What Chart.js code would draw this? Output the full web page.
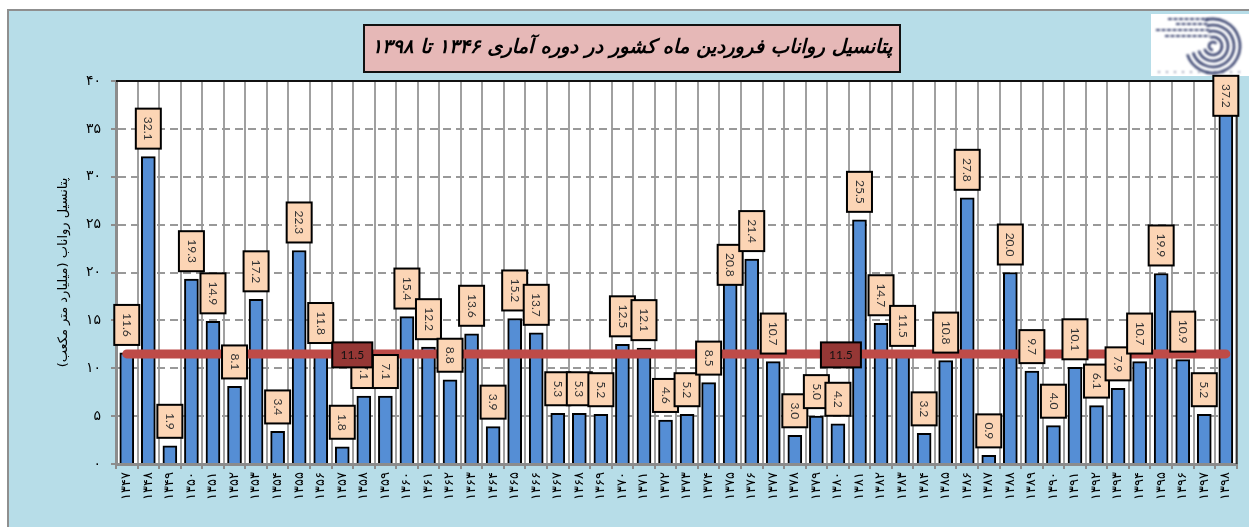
<!DOCTYPE html>
<html>
<head>
<meta charset="utf-8">
<script src="https://cdn.jsdelivr.net/npm/chart.js@4"></script>
<style>html,body{margin:0;padding:0;background:#fff;overflow:hidden}canvas{display:block}</style>
</head>
<body>
<canvas id="c" width="1249" height="527"></canvas>
<script>
const categories = ["۱۳۴۷","۱۳۴۸","۱۳۴۹","۱۳۵۰","۱۳۵۱","۱۳۵۲","۱۳۵۳","۱۳۵۴","۱۳۵۵","۱۳۵۶","۱۳۵۷","۱۳۵۸","۱۳۵۹","۱۳۶۰","۱۳۶۱","۱۳۶۲","۱۳۶۳","۱۳۶۴","۱۳۶۵","۱۳۶۶","۱۳۶۷","۱۳۶۸","۱۳۶۹","۱۳۷۰","۱۳۷۱","۱۳۷۲","۱۳۷۳","۱۳۷۴","۱۳۷۵","۱۳۷۶","۱۳۷۷","۱۳۷۸","۱۳۷۹","۱۳۸۰","۱۳۸۱","۱۳۸۲","۱۳۸۳","۱۳۸۴","۱۳۸۵","۱۳۸۶","۱۳۸۷","۱۳۸۸","۱۳۸۹","۱۳۹۰","۱۳۹۱","۱۳۹۲","۱۳۹۳","۱۳۹۴","۱۳۹۵","۱۳۹۶","۱۳۹۷","۱۳۹۸"];
const runoffValues = [11.6,32.1,1.9,19.3,14.9,8.1,17.2,3.4,22.3,11.8,1.8,7.1,7.1,15.4,12.2,8.8,13.6,3.9,15.2,13.7,5.3,5.3,5.2,12.5,12.1,4.6,5.2,8.5,20.8,21.4,10.7,3.0,5.0,4.2,25.5,14.7,11.5,3.2,10.8,27.8,0.9,20.0,9.7,4.0,10.1,6.1,7.9,10.7,19.9,10.9,5.2,37.2];
const meanValue = 11.5;
const meanSeries = categories.map(() => meanValue);
const yTickLabels = {0:"۰",5:"۵",10:"۱۰",15:"۱۵",20:"۲۰",25:"۲۵",30:"۳۰",35:"۳۵",40:"۴۰"};
const chartTitle = "پتانسیل رواناب فروردین ماه کشور در دوره آماری ۱۳۴۶ تا ۱۳۹۸";
const yAxisTitle = "پتانسیل رواناب (میلیارد متر مکعب)";
const meanLabelPoints = [{index:10,shift:10},{index:33,shift:3}];
const labelDrop = {28:28,51:16};

const decor = {
  id:'decor',
  beforeDraw(chart){
    const c=chart.ctx,a=chart.chartArea;
    c.save();
    c.fillStyle='#B7DDE8';c.fillRect(8,10,1241,517);
    c.fillStyle='#8f8f8f';c.fillRect(7,9,1242,2);c.fillRect(7,9,2,518);
    c.fillStyle='#fff';c.fillRect(a.left,a.top,a.right-a.left,a.bottom-a.top);
    // title box
    c.fillStyle='#E6B8B7';c.fillRect(364,25,536,47);
    c.strokeStyle='#111';c.lineWidth=2;c.strokeRect(364,25,536,47);
    c.fillStyle='#000';c.font='italic bold 19.5px "DejaVu Sans"';
    c.direction='rtl';c.textAlign='center';c.textBaseline='middle';
    c.fillText(chartTitle,632,48);
    c.direction='ltr';
    // logo
    c.fillStyle='#fff';c.fillRect(1151,14,98,62);
    c.filter='blur(0.8px)';
    c.strokeStyle='#3a4470';c.lineWidth=2.6;
    [9,15,21,27].forEach(r=>{c.beginPath();c.arc(1213,46,r,-Math.PI*0.6,Math.PI*0.9);c.stroke();});
    c.beginPath();c.arc(1213,46,4,Math.PI*0.5,Math.PI*1.8);c.stroke();
    c.lineWidth=1.8;
    [[1168,1208,19],[1176,1208,24],[1156,1210,30],[1165,1210,36]].forEach(l=>{c.beginPath();c.setLineDash([4,1.5]);c.moveTo(l[0],l[2]);c.lineTo(l[1],l[2]);c.stroke();});
    c.setLineDash([2,6]);c.lineWidth=1.2;c.beginPath();c.moveTo(1158,72);c.lineTo(1240,72);c.stroke();
    c.restore();
  },
  afterDatasetsDraw(chart){
    const c=chart.ctx,a=chart.chartArea,x=chart.scales.x,y=chart.scales.y;
    c.save();
    c.fillStyle='#111';c.fillRect(a.left,a.top-1,a.right-a.left,2);
    c.fillStyle='#333';c.fillRect(a.right-1,a.top,2,a.bottom-a.top);
    // value labels
    runoffValues.forEach((v,i)=>{
      const t=v.toFixed(1),h=t.length>3?40:33,w=25;
      const cx=x.getPixelForValue(i),bottom=y.getPixelForValue(v)-8+(labelDrop[i]||0);
      c.fillStyle='#FCD5B5';c.fillRect(cx-w/2,bottom-h,w,h);
      c.strokeStyle='#000';c.lineWidth=2;c.strokeRect(cx-w/2,bottom-h,w,h);
      c.save();c.translate(cx,bottom-h/2);c.rotate(Math.PI/2);
      c.fillStyle='#333';c.font='12px Lato';c.textAlign='center';c.textBaseline='middle';
      c.fillText(t,0,0);c.restore();
    });
    // mean labels
    meanLabelPoints.forEach(p=>{
      const cx=x.getPixelForValue(p.index)+p.shift,cy=y.getPixelForValue(meanValue)+1;
      c.fillStyle='#953735';c.fillRect(cx-20,cy-12.5,40,25);
      c.strokeStyle='#000';c.lineWidth=2;c.strokeRect(cx-20,cy-12.5,40,25);
      c.fillStyle='#111';c.font='12px Lato';c.textAlign='center';c.textBaseline='middle';
      c.fillText(meanValue.toFixed(1),cx,cy);
    });
    c.restore();
  }
};

new Chart(document.getElementById('c'),{
  type:'bar',
  data:{labels:categories,datasets:[
    {type:'line',data:meanSeries,borderColor:'#BE4B48',borderWidth:9,borderCapStyle:'round',pointRadius:0,tension:0,order:0},
    {type:'bar',data:runoffValues,backgroundColor:'#558ED5',borderColor:'#000',borderWidth:2,barThickness:14,order:1}
  ]},
  options:{
    responsive:false,animation:false,
    layout:{padding:{left:0,right:12.4,top:81,bottom:0}},
    plugins:{legend:{display:false},tooltip:{enabled:false},title:{display:false}},
    scales:{
      x:{
        afterFit(s){s.height=63;},
        grid:{color:'#a0a0a0',lineWidth:2,tickLength:5,tickColor:'#8c8c8c',offset:true},
        border:{color:'#8c8c8c',width:3},
        ticks:{autoSkip:false,minRotation:90,maxRotation:90,padding:3,color:'#000',font:{family:'DejaVu Sans',size:13}}
      },
      y:{
        min:0,max:40,
        afterFit(s){s.width=116;},
        grid:{color:'#999',lineWidth:2,tickLength:5,tickColor:'#8c8c8c'},
        border:{color:'#8c8c8c',width:3,dash:[8,5]},
        ticks:{stepSize:5,padding:10,color:'#000',font:{family:'DejaVu Sans',size:14},callback:v=>yTickLabels[v]},
        title:{display:true,text:yAxisTitle,color:'#000',padding:{top:56,bottom:0},font:{family:'DejaVu Sans',size:13}}
      }
    }
  },
  plugins:[decor]
});
</script>
</body>
</html>
